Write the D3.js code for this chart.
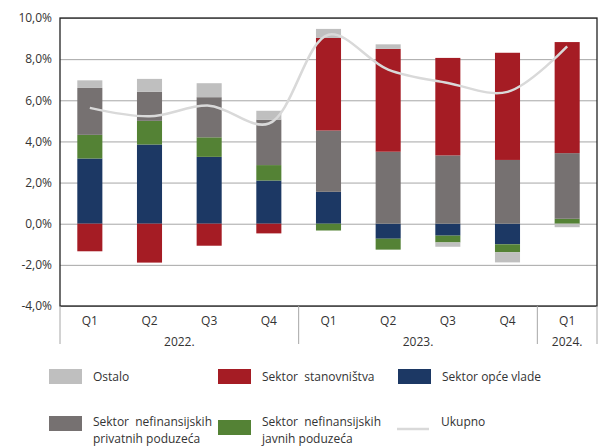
<!DOCTYPE html>
<html>
<head>
<meta charset="utf-8">
<script src="https://cdn.jsdelivr.net/npm/d3@7"></script>
<style>
  body { margin: 0; background: #fff; }
  text { font-family: "Open Sans", sans-serif; fill: #333; }
</style>
</head>
<body>
<div id="chart"></div>
<script>
// Data (% contributions)
var quarters = ["Q1", "Q2", "Q3", "Q4", "Q1", "Q2", "Q3", "Q4", "Q1"];
var years = [
  { label: "2022.", from: 0, to: 3 },
  { label: "2023.", from: 4, to: 7 },
  { label: "2024.", from: 8, to: 8 }
];
var opceVlade = [3.17, 3.85, 3.25, 2.10, 1.55, -0.73, -0.58, -1.00, 0];
var javnih = [1.15, 1.15, 0.95, 0.75, -0.33, -0.53, -0.33, -0.39, 0.24];
var privatnih = [2.28, 1.41, 1.95, 2.21, 2.98, 3.50, 3.32, 3.10, 3.19];
var stanovnistva = [-1.34, -1.89, -1.07, -0.47, 4.50, 5.00, 4.74, 5.21, 5.40];
var ostalo = [0.37, 0.63, 0.68, 0.43, 0.44, 0.22, -0.21, -0.49, -0.17];
var ukupno = [5.63, 5.22, 5.74, 4.87, 9.19, 7.49, 6.84, 6.41, 8.62];
var yTicks = [-4, -2, 0, 2, 4, 6, 8, 10];

var series = [
  { key: "opce", name: "Sektor opće vlade", values: opceVlade, color: "#1c3864" },
  { key: "javnih", name: "Sektor  nefinansijskih|javnih poduzeća", values: javnih, color: "#548235" },
  { key: "privatnih", name: "Sektor  nefinansijskih|privatnih poduzeća", values: privatnih, color: "#767171" },
  { key: "stan", name: "Sektor  stanovništva", values: stanovnistva, color: "#a51c24" },
  { key: "ostalo", name: "Ostalo", values: ostalo, color: "#bfbfbf" }
];

var margin = { left: 60, right: 9, top: 18, bottom: 141 };
var W = 606, H = 447;
var width = W - margin.left - margin.right;
var height = H - margin.top - margin.bottom;

var svg = d3.select("#chart").append("svg")
  .attr("width", W).attr("height", H);

var g = svg.append("g")
  .attr("transform", "translate(" + margin.left + "," + margin.top + ")");

var rows = quarters.map(function(q, i) {
  var r = { i: i };
  series.forEach(function(s) { r[s.key] = s.values[i]; });
  return r;
});

var stack = d3.stack()
  .keys(series.map(function(s) { return s.key; }))
  .offset(d3.stackOffsetDiverging);
var stacked = stack(rows);

var x = d3.scaleBand()
  .domain(d3.range(quarters.length))
  .range([0, width])
  .paddingInner(0.58)
  .paddingOuter(0.29);

var y = d3.scaleLinear().domain([-4, 10]).range([height, 0]);

var locale = d3.formatLocale({ decimal: ",", thousands: ".", grouping: [3], currency: ["", ""], minus: "-" });
var fmt = locale.format(".1f");

// Gridlines
g.append("g")
  .attr("class", "grid")
  .call(d3.axisLeft(y).tickValues(yTicks).tickSize(-width).tickFormat(""))
  .call(function(sel) {
    sel.select(".domain").remove();
    sel.selectAll("line").attr("stroke", "#a6a6a6").attr("stroke-width", 1);
  });

// Y labels
g.append("g")
  .attr("class", "y axis")
  .call(d3.axisLeft(y).tickValues(yTicks).tickSize(0).tickPadding(8)
    .tickFormat(function(d) { return fmt(d) + "%"; }))
  .call(function(sel) {
    sel.select(".domain").remove();
    sel.selectAll("text").attr("font-size", "12px").style("font-family", "'Open Sans', sans-serif").attr("fill", "#333");
  });

// Bars
g.selectAll(".layer")
  .data(stacked)
  .enter().append("g")
  .attr("class", "layer")
  .attr("fill", function(d, k) { return series[k].color; })
  .selectAll("rect")
  .data(function(d) { return d; })
  .enter().append("rect")
  .attr("x", function(d) { return x(d.data.i); })
  .attr("width", x.bandwidth())
  .attr("y", function(d) { return y(Math.max(d[0], d[1])); })
  .attr("height", function(d) { return Math.abs(y(d[0]) - y(d[1])); });

// Total line
var line = d3.line()
  .x(function(d, i) { return x(i) + x.bandwidth() / 2; })
  .y(function(d) { return y(d); })
  .curve(d3.curveCatmullRom.alpha(0.5));

g.append("path")
  .attr("fill", "none")
  .attr("stroke", "#d9d9d9")
  .attr("stroke-width", 2.5)
  .attr("d", line(ukupno));

// Frame
g.append("rect")
  .attr("width", width).attr("height", height)
  .attr("fill", "none").attr("stroke", "#222").attr("stroke-width", 1.3);

// X axis: quarter labels
g.append("g")
  .attr("transform", "translate(0," + height + ")")
  .selectAll("text")
  .data(quarters)
  .enter().append("text")
  .attr("x", function(d, i) { return x(i) + x.bandwidth() / 2; })
  .attr("y", 19)
  .attr("text-anchor", "middle")
  .attr("font-size", "12px")
  .text(function(d) { return d; });

// Year separators and labels
var step = x.step();
var seps = [0].concat(years.map(function(yr) { return (yr.to + 1) * step; }));
g.append("g")
  .attr("transform", "translate(0," + height + ")")
  .selectAll("line")
  .data(seps)
  .enter().append("line")
  .attr("x1", function(d) { return d; }).attr("x2", function(d) { return d; })
  .attr("y1", 0).attr("y2", 38)
  .attr("stroke", "#a6a6a6").attr("stroke-width", 1);

g.append("g")
  .attr("transform", "translate(0," + height + ")")
  .selectAll("text")
  .data(years)
  .enter().append("text")
  .attr("x", function(d) { return (d.from * step + (d.to + 1) * step) / 2; })
  .attr("y", 40)
  .attr("text-anchor", "middle")
  .attr("font-size", "12px")
  .text(function(d) { return d.label; });

// Legend
var legendItems = [
  { s: series[4], x: 49, y: 369 },
  { s: series[3], x: 218, y: 369 },
  { s: series[0], x: 398, y: 369 },
  { s: series[2], x: 49, y: 416 },
  { s: series[1], x: 218, y: 420 },
  { s: { name: "Ukupno", color: "#d9d9d9", isLine: true }, x: 397, y: 420 }
];

var lg = svg.append("g").attr("class", "legend");
legendItems.forEach(function(it) {
  var item = lg.append("g");
  if (it.s.isLine) {
    item.append("line")
      .attr("x1", it.x).attr("x2", it.x + 32)
      .attr("y1", it.y + 9).attr("y2", it.y + 9)
      .attr("stroke", it.s.color).attr("stroke-width", 2.5);
  } else {
    item.append("rect")
      .attr("x", it.x).attr("y", it.y)
      .attr("width", 33).attr("height", 15)
      .attr("fill", it.s.color);
  }
  var lines = it.s.name.split("|");
  var t = item.append("text")
    .attr("x", it.x + 44)
    .attr("y", it.y > 400 ? 426 : 381)
    .attr("font-size", "12px")
    .style("white-space", "pre");
  lines.forEach(function(l, j) {
    t.append("tspan")
      .attr("x", it.x + 44)
      .attr("dy", j === 0 ? 0 : 17)
      .text(l);
  });
});
</script>
</body>
</html>
